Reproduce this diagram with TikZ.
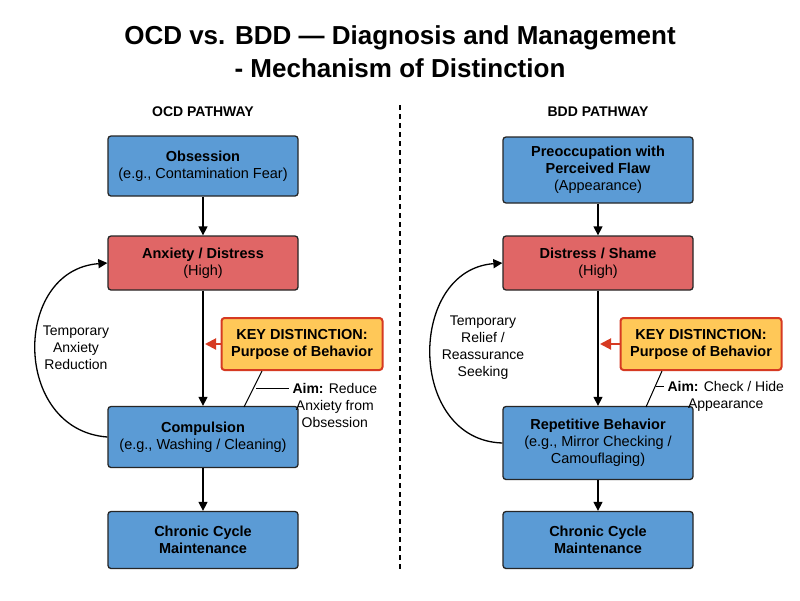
\documentclass[tikz,border=0pt]{standalone}
\usepackage{fontspec}
\setmainfont{Liberation Sans}
\usetikzlibrary{arrows.meta}
\definecolor{bl}{HTML}{5B9BD5}
\definecolor{rd}{HTML}{E06666}
\definecolor{og}{HTML}{FFC858}
\definecolor{ob}{HTML}{D63A22}
\begin{document}
\begin{tikzpicture}[x=1pt,y=-1pt,
 box/.style={draw=black!85,line width=1.3pt,rounded corners=3pt,minimum width=190pt,align=center,font=\fontsize{14.5}{17}\selectfont,inner sep=2pt},
 blue/.style={box,fill=bl},
 red/.style={box,fill=rd},
 key/.style={draw=ob,line width=2pt,rounded corners=3pt,fill=og,minimum width=161pt,minimum height=52pt,align=center,font=\fontsize{14.5}{17}\selectfont\bfseries},
 arr/.style={-{Triangle[length=9pt,width=9pt]},line width=1.3pt},
 lbl/.style={align=center,font=\fontsize{14}{17}\selectfont}]
\useasboundingbox (0,0) rectangle (800,600);
\fill[white] (0,0) rectangle (800,600);
\node[font=\fontsize{26}{30}\selectfont\bfseries] (t1) at (400,38) {OCD vs. BDD — Diagnosis and Management};
\node[font=\fontsize{26}{30}\selectfont\bfseries] (t2) at (400,68) {- Mechanism of Distinction};
\coordinate (d1) at (400,105); \coordinate (d2) at (400,572);
\draw[dashed,line width=1.2pt,dash pattern=on 5pt off 4pt] (d1) -- (d2);
\node[font=\fontsize{14}{16}\selectfont\bfseries] (h1) at (203,112) {OCD PATHWAY};
\node[font=\fontsize{14}{16}\selectfont\bfseries] (h2) at (598,112) {BDD PATHWAY};
% left
\node[blue,minimum height=60pt] (a1) at (203,166) {\textbf{Obsession}\\(e.g., Contamination Fear)};
\node[red,minimum height=54pt] (a2) at (203,263) {\textbf{Anxiety / Distress}\\(High)};
\node[blue,minimum height=61pt] (a3) at (203,437) {\textbf{Compulsion}\\(e.g., Washing / Cleaning)};
\node[blue,minimum height=57pt] (a4) at (203,540) {\textbf{Chronic Cycle}\\\textbf{Maintenance}};
\draw[arr] (a1) -- (a2);
\draw[arr] (a2) -- (a3);
\draw[arr] (a3) -- (a4);
\draw[arr] (a3.west) .. controls (12,430) and (12,270) .. (a2.west);
\node[lbl] (l1) at (76,348) {Temporary\\Anxiety\\Reduction};
\node[key] (k1) at (302,344) {KEY DISTINCTION:\\Purpose of Behavior};
\coordinate (p1) at (205,344);
\draw[-{Triangle[length=11pt,width=11pt]},line width=2pt,draw=ob,fill=ob] (k1.west) -- (p1);
\node[lbl,anchor=west] (m1) at (289,405) {\textbf{Aim:} Reduce\\Anxiety from\\Obsession};
\coordinate (q1) at (262,371); \coordinate (q2) at (244,407);
\draw[line width=1pt] (q1) -- (q2);
\coordinate (r1) at (256,388);
\draw[line width=1pt] (r1) -- (m1.west |- r1);
% right
\node[blue,minimum height=66pt] (b1) at (598,170) {\textbf{Preoccupation with}\\\textbf{Perceived Flaw}\\(Appearance)};
\node[red,minimum height=54pt] (b2) at (598,263) {\textbf{Distress / Shame}\\(High)};
\node[blue,minimum height=73pt] (b3) at (598,443) {\textbf{Repetitive Behavior}\\(e.g., Mirror Checking /\\Camouflaging)};
\node[blue,minimum height=57pt] (b4) at (598,540) {\textbf{Chronic Cycle}\\\textbf{Maintenance}};
\draw[arr] (b1) -- (b2);
\draw[arr] (b2) -- (b3);
\draw[arr] (b3) -- (b4);
\draw[arr] (b3.west) .. controls (407,440) and (407,270) .. (b2.west);
\node[lbl] (l2) at (483,348) {Temporary\\Relief /\\Reassurance\\Seeking};
\node[key] (k2) at (701,344) {KEY DISTINCTION:\\Purpose of Behavior};
\coordinate (p2) at (600,344);
\draw[-{Triangle[length=11pt,width=11pt]},line width=2pt,draw=ob,fill=ob] (k2.west) -- (p2);
\node[lbl,anchor=west] (m2) at (664,396) {\textbf{Aim:} Check / Hide\\Appearance};
\coordinate (q3) at (662,371); \coordinate (q4) at (646,407);
\draw[line width=1pt] (q3) -- (q4);
\coordinate (r2) at (656,386);
\draw[line width=1pt] (r2) -- (m2.west |- r2);
\end{tikzpicture}
\end{document}
